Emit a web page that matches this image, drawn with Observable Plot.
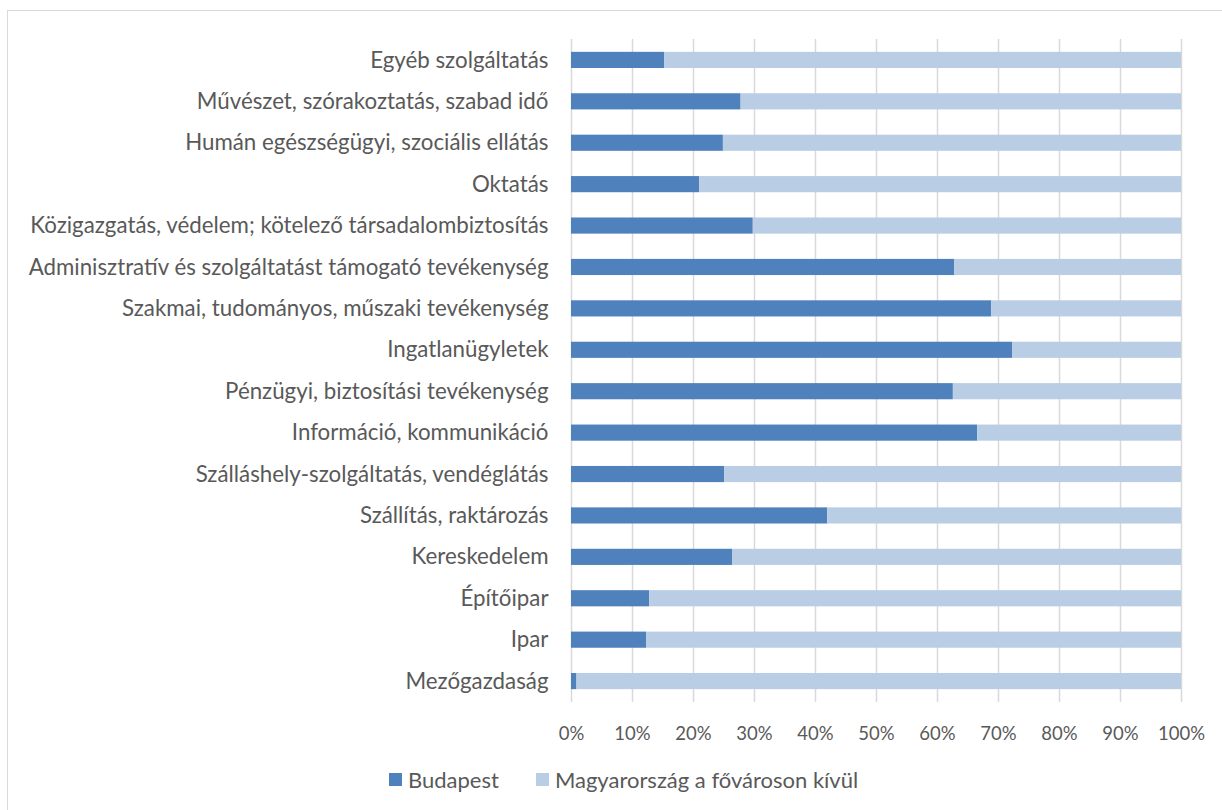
<!DOCTYPE html>
<html>
<head>
<meta charset="utf-8">
<script src="https://cdn.jsdelivr.net/npm/d3@7"></script>
<script src="https://cdn.jsdelivr.net/npm/@observablehq/plot@0.6"></script>
<style>
  html, body { margin: 0; padding: 0; background: #fff; }
  body { width: 1222px; height: 810px; position: relative; overflow: hidden; font-family: Lato, "Open Sans", sans-serif; }
  #frame { position: absolute; left: 7px; top: 10px; width: 1220px; height: 810px; border: 1px solid #d9d9d9; box-sizing: border-box; }
  #chart { position: absolute; left: 0; top: 0; }
  #legend { position: absolute; top: 766px; left: 389px; display: flex; align-items: center; font-size: 22px; color: #595959; }
  .sw { display: inline-block; width: 13px; height: 13px; margin-right: 6px; }
  .item { display: flex; align-items: center; margin-right: 37px; }
</style>
</head>
<body>
<div id="frame"></div>
<div id="chart"></div>
<div id="legend"></div>
<script>
const categories = [
  "Egyéb szolgáltatás",
  "Művészet, szórakoztatás, szabad idő",
  "Humán egészségügyi, szociális ellátás",
  "Oktatás",
  "Közigazgatás, védelem; kötelező társadalombiztosítás",
  "Adminisztratív és szolgáltatást támogató tevékenység",
  "Szakmai, tudományos, műszaki tevékenység",
  "Ingatlanügyletek",
  "Pénzügyi, biztosítási tevékenység",
  "Információ, kommunikáció",
  "Szálláshely-szolgáltatás, vendéglátás",
  "Szállítás, raktározás",
  "Kereskedelem",
  "Építőipar",
  "Ipar",
  "Mezőgazdaság"
];
const seriesNames = ["Budapest", "Magyarország a fővároson kívül"];
const budapest = [15.3, 27.8, 24.9, 21.0, 29.8, 62.8, 68.9, 72.3, 62.6, 66.6, 25.1, 42.0, 26.4, 12.8, 12.3, 0.9];
const outside  = [84.7, 72.2, 75.1, 79.0, 70.2, 37.2, 31.1, 27.7, 37.4, 33.4, 74.9, 58.0, 73.6, 87.2, 87.7, 99.1];
const xTicks = [0, 10, 20, 30, 40, 50, 60, 70, 80, 90, 100];
const colors = ["#4f81bd", "#b9cde5"];

const rows = [];
categories.forEach((c, i) => {
  rows.push({cat: c, series: seriesNames[0], value: budapest[i]});
  rows.push({cat: c, series: seriesNames[1], value: outside[i]});
});

const chart = Plot.plot({
  width: 1222,
  height: 762,
  marginLeft: 571,
  marginRight: 41,
  marginTop: 39,
  marginBottom: 60,
  style: {fontFamily: "Lato, 'Open Sans', sans-serif", fontSize: "18px", color: "#595959", background: "transparent"},
  x: {domain: [0, 100], ticks: xTicks, tickFormat: d => d + "%", tickSize: 0, tickPadding: 24, label: null},
  y: {domain: categories, paddingInner: 0.61, paddingOuter: 0.31, round: false, tickSize: 0, tickPadding: 23, label: null},
  color: {domain: seriesNames, range: colors},
  marks: [
    Plot.ruleX(xTicks, {stroke: "#d9d9d9", strokeWidth: 1.5}),
    Plot.barX(rows, Plot.stackX({x: "value", y: "cat", fill: "series", order: seriesNames})),
    Plot.axisX({ticks: xTicks, tickFormat: d => d + "%", tickSize: 0, tickPadding: 24, fontSize: 18.5, label: null}),
    Plot.axisY({tickSize: 0, tickPadding: 23, fontSize: 22.3, label: null})
  ]
});
document.getElementById("chart").appendChild(chart);

const legend = document.getElementById("legend");
seriesNames.forEach((s, i) => {
  const it = document.createElement("div");
  it.className = "item";
  const sw = document.createElement("span");
  sw.className = "sw";
  sw.style.background = colors[i];
  const t = document.createElement("span");
  t.textContent = s;
  it.appendChild(sw);
  it.appendChild(t);
  legend.appendChild(it);
});
</script>
</body>
</html>
